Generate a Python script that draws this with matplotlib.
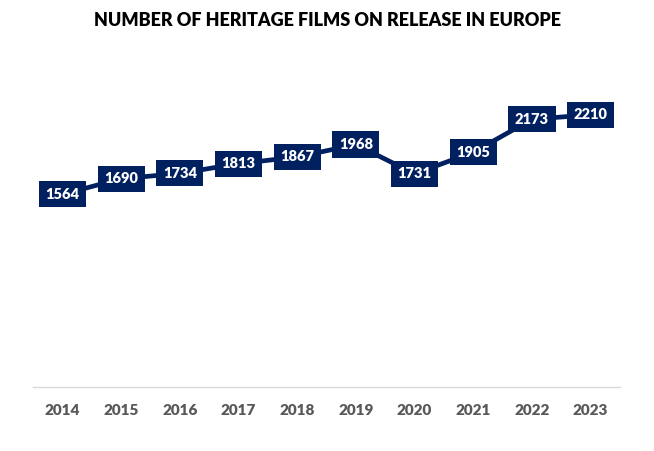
import matplotlib
matplotlib.use("Agg")
import matplotlib.pyplot as plt

# data
years = ["2014", "2015", "2016", "2017", "2018", "2019", "2020", "2021", "2022", "2023"]
films = [1564, 1690, 1734, 1813, 1867, 1968, 1731, 1905, 2173, 2210]
title = "NUMBER OF HERITAGE FILMS ON RELEASE IN EUROPE"

navy = "#002060"
plt.rcParams["font.family"] = ["Lato", "DejaVu Sans"]

fig = plt.figure(figsize=(6.54, 4.51), dpi=100)
ax = fig.add_axes([33 / 654, 64 / 451, 587 / 654, 308 / 451])

x = list(range(len(years)))
ax.plot(x, films, color=navy, lw=3.4, solid_joinstyle="miter", zorder=2)

# boxed value labels
for xi, v in zip(x, films):
    ax.text(xi, v, str(v), ha="center", va="center", color="white",
            fontsize=10.5, fontweight="heavy", zorder=3,
            bbox=dict(boxstyle="square,pad=0.45", fc=navy, ec="none"))

ax.set_xlim(-0.5, len(years) - 0.5)
ax.set_ylim(0, 2500)
ax.set_xticks(x)
ax.set_xticklabels(years, fontsize=11, fontweight="heavy", color="#595959")
ax.tick_params(axis="x", length=0, pad=12)
ax.set_yticks([])
for s in ["top", "left", "right"]:
    ax.spines[s].set_visible(False)
ax.spines["bottom"].set_color("#d9d9d9")
ax.spines["bottom"].set_linewidth(1)

fig.text(0.5, 1 - 20 / 451, title, ha="center", va="center",
         fontsize=13, fontweight="heavy", color="black")

fig.savefig("out.png", dpi=100)
